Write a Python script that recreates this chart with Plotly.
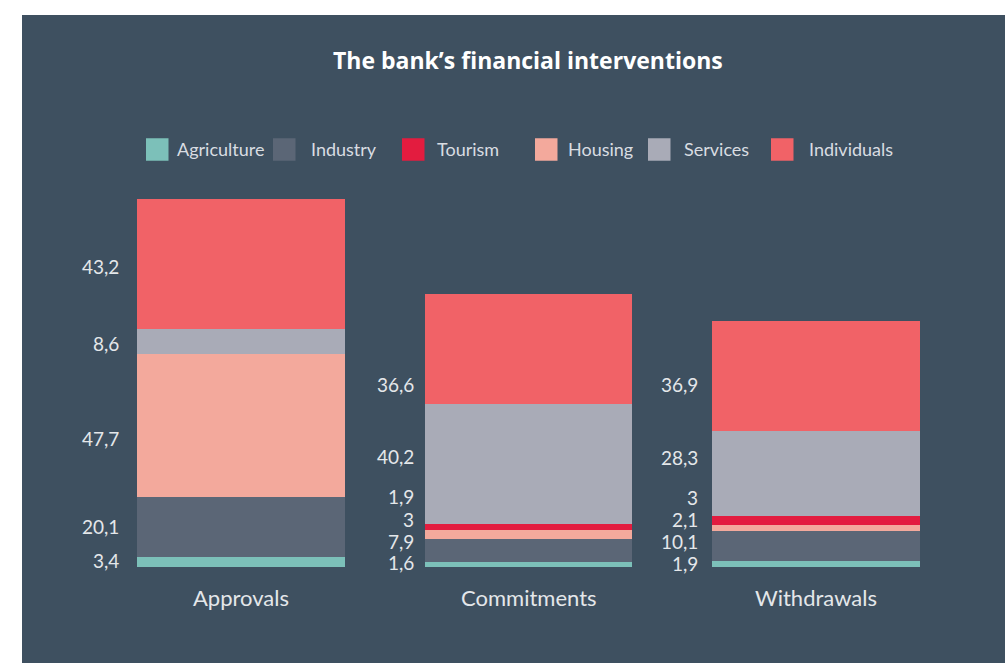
import plotly.graph_objects as go

# ---------------- data ----------------
categories = ["Approvals", "Commitments", "Withdrawals"]
# stacking order (bottom -> top)
agriculture = [3.4, 1.6, 1.9]
industry = [20.1, 7.9, 10.1]
housing = [47.7, 3.0, 2.1]
tourism = [None, 1.9, 3.0]
services = [8.6, 40.2, 28.3]
individuals = [43.2, 36.6, 36.9]

value_text = {
    "Agriculture": ["3,4", "1,6", "1,9"],
    "Industry": ["20,1", "7,9", "10,1"],
    "Housing": ["47,7", "3", "2,1"],
    "Tourism": ["", "1,9", "3"],
    "Services": ["8,6", "40,2", "28,3"],
    "Individuals": ["43,2", "36,6", "36,9"],
}

legend_order = ["Agriculture", "Industry", "Tourism", "Housing", "Services", "Individuals"]

# ---------------- style ----------------
W, H = 1005, 663
ML, MR, MT, MB = 97, 45, 177, 96
PW, PH = W - ML - MR, H - MT - MB
YMAX = 130.5
BAR_W = 0.723

PANEL = "#3e5060"
TXT = "#e4e7ea"
colors = {
    "Agriculture": "#7cc0b9",
    "Industry": "#5b6676",
    "Tourism": "#e31c3f",
    "Housing": "#f3a99c",
    "Services": "#a9abb7",
    "Individuals": "#f16267",
}
series = [
    ("Agriculture", agriculture),
    ("Industry", industry),
    ("Housing", housing),
    ("Tourism", tourism),
    ("Services", services),
    ("Individuals", individuals),
]
# label nudges in px (up positive), per bar, in stacking order
label_nudge = [
    [1, 0, -13, 0, -2, -3],
    [2, 9, 15, 30, 7, -35],
    [1, 5, 9, 23, 16, -8],
]
label_gap = [16, 9, 12]

FONT = "Lato"


def px2x(px):
    return (px - ML) / PW


def py2y(py):
    return (H - MB - py) / PH


fig = go.Figure()

for name, vals in series:
    fig.add_trace(go.Bar(
        x=categories, y=vals, name=name, width=BAR_W,
        marker=dict(color=colors[name], line=dict(width=0)),
        showlegend=False, hoverinfo="skip",
    ))

annotations = []
# value labels at segment centres (with nudges to avoid overlaps)
for ci, cat in enumerate(categories):
    base = 0.0
    for si, (name, vals) in enumerate(series):
        v = vals[ci]
        if v is None or v == 0:
            continue
        centre = base + v / 2.0
        base += v
        annotations.append(dict(
            x=ci - BAR_W / 2, y=centre, xref="x", yref="y",
            text=value_text[name][ci], showarrow=False,
            xanchor="right", yanchor="middle",
            xshift=-label_gap[ci], yshift=label_nudge[ci][si],
            font=dict(family=FONT, size=19, color=TXT),
        ))

# category labels
for ci, cat in enumerate(categories):
    annotations.append(dict(
        x=ci, y=0, xref="x", yref="y", text=cat, showarrow=False,
        xanchor="center", yanchor="middle", yshift=-30,
        font=dict(family=FONT, size=22, color=TXT),
    ))

# title
annotations.append(dict(
    x=px2x(528), y=py2y(60), xref="paper", yref="paper",
    text="<b>The bank’s financial interventions</b>", showarrow=False,
    xanchor="center", yanchor="middle",
    font=dict(family="Open Sans", size=23, color="#ffffff"),
))

shapes = [dict(
    type="rect", xref="paper", yref="paper", layer="below",
    x0=px2x(22), x1=px2x(W + 5), y0=py2y(H + 5), y1=py2y(15),
    fillcolor=PANEL, line=dict(width=0),
)]

# custom legend
legend_sq = [146, 273, 402, 535, 648, 771]
legend_tx = [175, 309, 435, 566, 682, 807]
LEG_Y = 149.5
SQ = 22.5
for name, sx, tx in zip(legend_order, legend_sq, legend_tx):
    shapes.append(dict(
        type="rect", xref="paper", yref="paper",
        x0=px2x(sx), x1=px2x(sx + SQ), y0=py2y(LEG_Y + SQ / 2), y1=py2y(LEG_Y - SQ / 2),
        fillcolor=colors[name], line=dict(width=0),
    ))
    annotations.append(dict(
        x=px2x(tx), y=py2y(LEG_Y - 0.5), xref="paper", yref="paper",
        text=name, showarrow=False, xanchor="left", yanchor="middle",
        font=dict(family=FONT, size=18, color="#d9dde2"),
    ))

fig.update_layout(
    width=W, height=H,
    margin=dict(l=ML, r=MR, t=MT, b=MB, pad=0),
    barmode="stack", bargap=0,
    paper_bgcolor="#ffffff", plot_bgcolor="rgba(0,0,0,0)",
    xaxis=dict(range=[-0.5, 2.5], showgrid=False, zeroline=False,
               showticklabels=False, showline=False, fixedrange=True),
    yaxis=dict(range=[0, YMAX], showgrid=False, zeroline=False,
               showticklabels=False, showline=False, fixedrange=True),
    annotations=annotations, shapes=shapes,
    showlegend=False,
)

fig.write_html("out.html", config={"displayModeBar": False})
